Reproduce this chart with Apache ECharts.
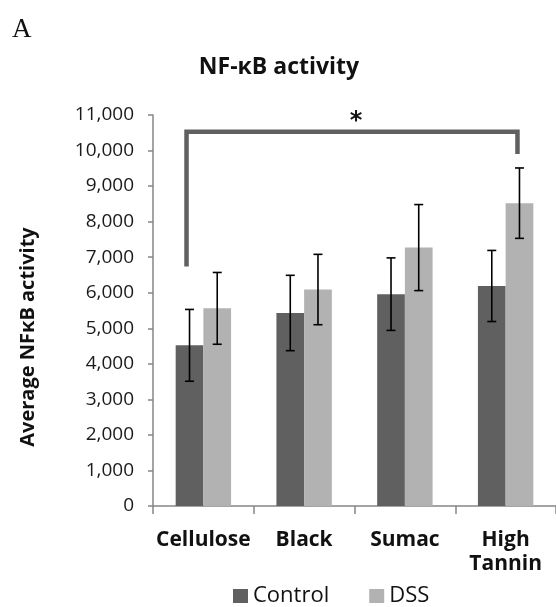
<!DOCTYPE html>
<html>
<head>
<meta charset="utf-8">
<script src="https://cdn.jsdelivr.net/npm/echarts@6/dist/echarts.min.js"></script>
<style>html,body{margin:0;padding:0;background:#fff}#c{width:556px;height:607px}</style>
</head>
<body>
<div id="c"></div>
<script>
var categories = ['Cellulose', 'Black', 'Sumac', 'High\nTannin'];
var controlValues = [4520, 5430, 5960, 6190];
var dssValues = [5560, 6090, 7270, 8520];
var controlErr = [1010, 1060, 1020, 1000];
var dssErr = [1010, 990, 1210, 990];
var yTicks = [0, 11000, 1000];
var bracket = { from: 0, to: 3, top: 10530, leftEnd: 6740, rightEnd: 9900, mark: '*' };

var BAR_FRAC = 0.275;
var chart = echarts.init(document.getElementById('c'));

function errorSeries(values, errs, side) {
  return {
    type: 'custom',
    z: 5,
    data: values.map(function (v, i) { return [i, v - errs[i], v + errs[i]]; }),
    renderItem: function (params, api) {
      var band = api.size([1, 0])[0];
      var off = side * band * BAR_FRAC / 2;
      var lo = api.coord([api.value(0), api.value(1)]);
      var hi = api.coord([api.value(0), api.value(2)]);
      var x = lo[0] + off, cw = 4.5;
      var st = { stroke: '#000', lineWidth: 1.6 };
      return {
        type: 'group',
        children: [
          { type: 'line', shape: { x1: x, y1: lo[1], x2: x, y2: hi[1] }, style: st },
          { type: 'line', shape: { x1: x - cw, y1: lo[1], x2: x + cw, y2: lo[1] }, style: st },
          { type: 'line', shape: { x1: x - cw, y1: hi[1], x2: x + cw, y2: hi[1] }, style: st }
        ]
      };
    }
  };
}

chart.setOption({
  animation: false,
  graphic: [
    { type: 'text', x: 279, y: 67,
      style: { text: 'NF-\u03BAB activity', font: 'bold 23px "Open Sans"', fill: '#111', align: 'center', verticalAlign: 'middle' } },
    { type: 'text', left: 12, top: 16, style: { text: 'A', font: '27px "Liberation Serif"', fill: '#111' } },
    { type: 'text', x: 28, y: 337, rotation: Math.PI / 2,
      style: { text: 'Average NF\u03BAB activity', font: 'bold 20px "Open Sans"', fill: '#111', align: 'center', verticalAlign: 'middle' } }
  ],
  legend: {
    top: 580, left: 228,
    itemWidth: 15, itemHeight: 14, itemGap: 40,
    icon: 'rect',
    textStyle: { fontFamily: 'Open Sans', fontSize: 22, color: '#111' },
    data: ['Control', 'DSS']
  },
  grid: { left: 153, right: -9, top: 115, bottom: 101, containLabel: false },
  xAxis: {
    type: 'category',
    data: categories,
    axisLine: { lineStyle: { color: '#868686', width: 1.5 } },
    axisTick: { show: true, length: 8, lineStyle: { color: '#868686', width: 1.5 } },
    axisLabel: { fontFamily: 'Open Sans', fontWeight: 'bold', fontSize: 21, color: '#111', margin: 22, lineHeight: 24, interval: 0 }
  },
  yAxis: {
    type: 'value',
    min: yTicks[0], max: yTicks[1], interval: yTicks[2],
    splitLine: { show: false },
    axisLine: { show: true, lineStyle: { color: '#868686', width: 1.5 } },
    axisTick: { show: true, length: 5, lineStyle: { color: '#868686', width: 1.5 } },
    axisLabel: {
      fontFamily: 'Open Sans', fontSize: 19, color: '#1a1a1a', margin: 19,
      formatter: function (v) { return v.toLocaleString('en-US'); }
    }
  },
  series: [
    { name: 'Control', type: 'bar', data: controlValues, barWidth: (BAR_FRAC * 100) + '%', barGap: '0%',
      itemStyle: { color: '#606060' } },
    { name: 'DSS', type: 'bar', data: dssValues, barWidth: (BAR_FRAC * 100) + '%', barGap: '0%',
      itemStyle: { color: '#b2b2b2' } },
    errorSeries(controlValues, controlErr, -1),
    errorSeries(dssValues, dssErr, 1),
    {
      type: 'custom', z: 6,
      data: [[bracket.from, bracket.to, bracket.top, bracket.leftEnd, bracket.rightEnd]],
      renderItem: function (params, api) {
        var band = api.size([1, 0])[0];
        var off = band * BAR_FRAC / 2;
        var l = api.coord([api.value(0), api.value(2)]);
        var r = api.coord([api.value(1), api.value(2)]);
        var lEnd = api.coord([api.value(0), api.value(3)]);
        var rEnd = api.coord([api.value(1), api.value(4)]);
        var xl = l[0] - off - 3, xr = r[0] + off - 2;
        return {
          type: 'group',
          children: [
            { type: 'polyline', shape: { points: [[xl, lEnd[1]], [xl, l[1]], [xr, l[1]], [xr, rEnd[1]]] },
              style: { stroke: '#606060', lineWidth: 4.5, fill: null } },
            { type: 'text', x: (xl + xr) / 2 + 4, y: l[1] + 2,
              style: { text: bracket.mark, font: 'bold 24px "DejaVu Sans"', fill: '#111', align: 'center', verticalAlign: 'bottom' } }
          ]
        };
      }
    }
  ]
});
</script>
</body>
</html>
